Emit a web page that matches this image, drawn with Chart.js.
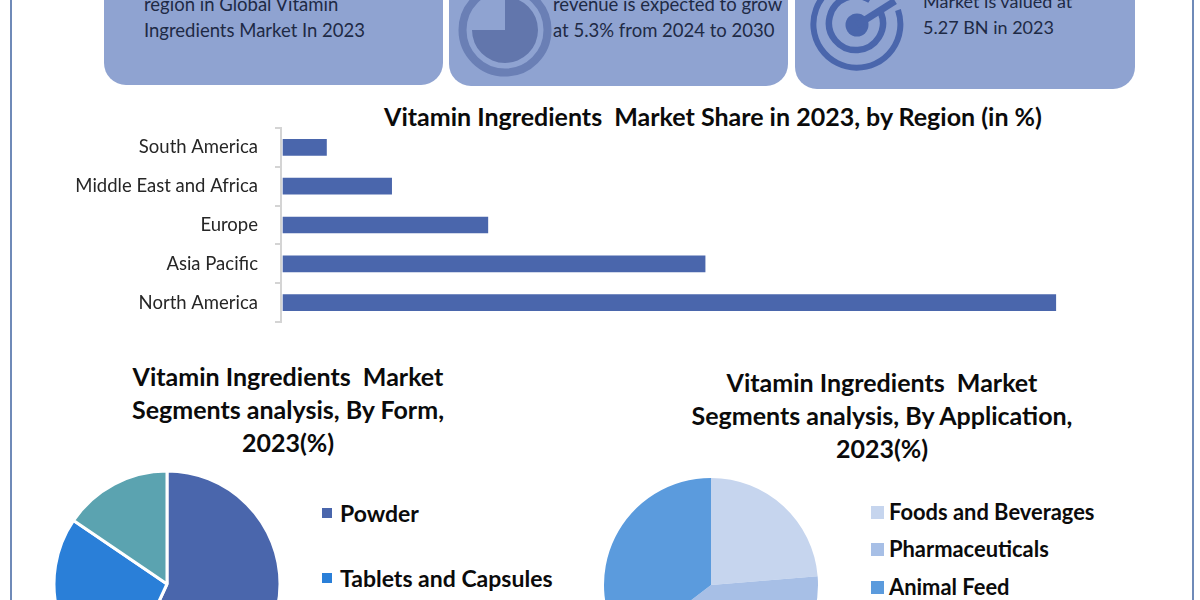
<!DOCTYPE html>
<html>
<head>
<meta charset="utf-8">
<script src="https://cdn.jsdelivr.net/npm/chart.js@4/dist/chart.umd.js"></script>
<style>
html, body { margin: 0; padding: 0; background: #fff; }
body { position: relative; width: 1200px; height: 600px; overflow: hidden; font-family: Lato, sans-serif; color: #000; }
.abs { position: absolute; }
.frame { top: -10px; bottom: -10px; width: 2px; background: #6f8ab8; }
.card { top: -40px; background: #8fa3d1; border-radius: 22px; }
.cardText { font-size: 18.5px; line-height: 26px; color: #1e2a45; white-space: nowrap; }
.title { font-weight: 700; font-size: 25px; line-height: 33px; text-align: center; color: #0b0b0b; white-space: pre; }
canvas { position: absolute; }
.legendItem { font-weight: 700; white-space: nowrap; color: #0b0b0b; line-height: 30px; }
.legendBox { position: absolute; }
</style>
</head>
<body>
<div class="abs frame" style="left:10px"></div>
<div class="abs frame" style="left:1192px"></div>

<div class="abs card" style="left:104px;width:339px;height:125px"></div>
<div class="abs card" style="left:449px;width:339px;height:126px"></div>
<div class="abs card" style="left:795px;width:340px;height:129px"></div>

<div class="abs cardText" style="left:144px;top:-9px">region in Global Vitamin<br>Ingredients Market In 2023</div>
<div class="abs cardText" style="left:553px;top:-9px">revenue is expected to grow<br>at 5.3% from 2024 to 2030</div>
<div class="abs cardText" style="left:923px;top:-12px;font-size:18px">Market is valued at<br>5.27 BN in 2023</div>

<svg class="abs" style="left:450px;top:-30px" width="110" height="120" viewBox="0 0 110 120">
  <circle cx="55" cy="60" r="42.5" fill="none" stroke="#6a7fb5" stroke-width="8"/>
  <path d="M55 60 V27 A33 33 0 1 1 22 60 Z" fill="#6276ac"/>
</svg>
<svg class="abs" style="left:800px;top:-30px" width="120" height="120" viewBox="0 0 120 120">
  <path d="M98 40 A43.5 43.5 0 1 1 85 21" fill="none" stroke="#4a66ac" stroke-width="6"/>
  <path d="M81 43 A27 27 0 1 1 70 30" fill="none" stroke="#4a66ac" stroke-width="6.5"/>
  <circle cx="57" cy="55" r="11.5" fill="#4a66ac"/>
  <path d="M57 55 L95 31" fill="none" stroke="#4a66ac" stroke-width="7"/>
</svg>

<div class="abs title" style="left:233px;width:960px;top:100px">Vitamin Ingredients  Market Share in 2023, by Region (in %)</div>
<div class="abs title" style="left:88px;width:400px;top:360px">Vitamin Ingredients  Market
Segments analysis, By Form,
2023(%)</div>
<div class="abs title" style="left:682px;width:400px;top:366px">Vitamin Ingredients  Market
Segments analysis, By Application,
2023(%)</div>

<canvas id="regionChart" style="left:0;top:118px" width="1100" height="214"></canvas>
<canvas id="formChart" style="left:53px;top:470px" width="228" height="228"></canvas>
<canvas id="appChart" style="left:597px;top:471px" width="228" height="228"></canvas>
<div id="legends"></div>

<script>
const regionLabels = ['South America', 'Middle East and Africa', 'Europe', 'Asia Pacific', 'North America'];
const regionValues = [2.8, 7.0, 13.2, 27.2, 49.8];

const formLabels = ['Powder', 'Tablets and Capsules', ''];
const formValues = [56.9, 27.6, 15.5];
const formColors = ['#4a66ac', '#2a7fd8', '#5ba3b0'];

const appLabels = ['Foods and Beverages', 'Pharmaceuticals', 'Animal Feed'];
const appValues = [23.7, 40.9, 35.4];
const appColors = ['#c6d5ee', '#a7bfe6', '#5b9bdd'];

new Chart(document.getElementById('regionChart'), {
    type: 'bar',
    data: { labels: regionLabels, datasets: [{ data: regionValues, backgroundColor: '#4a66ac', barThickness: 16 }] },
    options: {
        indexAxis: 'y',
        responsive: false,
        animation: false,
        layout: { padding: { top: 10, bottom: 10 } },
        plugins: { legend: { display: false }, tooltip: { enabled: false } },
        scales: {
            x: { display: false, min: -0.13, max: 52.65 },
            y: {
                afterFit: (scale) => {
                    // fixed gutter, and no extra room above and below for the tick padding
                    scale.width = 281;
                    scale.paddingTop = 0;
                    scale.paddingBottom = 0;
                },
                grid: { drawOnChartArea: false, tickLength: 6, color: '#d4d4d4', lineWidth: 2 },
                border: { color: '#d4d4d4', width: 2 },
                ticks: { color: '#262626', padding: 17, font: { family: 'Lato', size: 18.5 } }
            }
        }
    }
});

function pie(id, labels, values, colors, radius, borderWidth) {
    new Chart(document.getElementById(id), {
        type: 'pie',
        data: { labels: labels, datasets: [{ data: values, backgroundColor: colors, borderColor: '#fff', borderWidth: borderWidth, radius: radius }] },
        options: {
            responsive: false,
            animation: false,
            layout: { padding: 0 },
            plugins: { legend: { display: false }, tooltip: { enabled: false } }
        }
    });
}
pie('formChart', formLabels, formValues, formColors, 113, 3);
pie('appChart', appLabels, appValues, appColors, 107, 0);

// legends sit apart from the pies in the picture, so they are plain html
function legend(labels, colors, x, ys, size, boxSize) {
    labels.forEach((label, i) => {
        if (!label) return;
        const item = document.createElement('div');
        item.className = 'abs legendItem';
        item.style.left = (x + 18) + 'px';
        item.style.top = (ys[i] - 15) + 'px';
        item.style.fontSize = size + 'px';
        item.textContent = label;
        const box = document.createElement('div');
        box.className = 'legendBox';
        box.style.left = x + 'px';
        box.style.top = (ys[i] - boxSize / 2) + 'px';
        box.style.width = boxSize + 'px';
        box.style.height = boxSize + 'px';
        box.style.background = colors[i];
        const host = document.getElementById('legends');
        host.appendChild(box);
        host.appendChild(item);
    });
}
legend(formLabels, formColors, 322, [513, 578], 23, 10);
legend(appLabels, appColors, 871, [512, 549, 587], 21.9, 13);
</script>
</body>
</html>
